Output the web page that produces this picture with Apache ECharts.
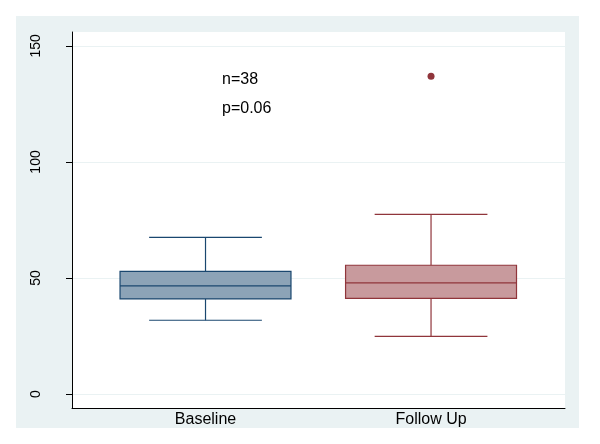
<!DOCTYPE html>
<html>
<head>
<meta charset="utf-8">
<script src="https://cdn.jsdelivr.net/npm/echarts@6/dist/echarts.min.js"></script>
<style>
  html, body { margin: 0; padding: 0; background: #ffffff; }
  #chart { position: absolute; left: 16px; top: 16px; width: 563px; height: 412px; }
</style>
</head>
<body>
<div id="chart"></div>
<script>
// box plot summary
const categories = ['Baseline', 'Follow Up']
const lowWhisker = [31.8, 24.9]
const q1 = [41.0, 41.2]
const median = [46.6, 47.9]
const q3 = [52.9, 55.5]
const highWhisker = [67.5, 77.4]
const outlierCategory = ['Follow Up']
const outlierValue = [136.9]
const yTicks = [0, 50, 100, 150]
const notes = ['n=38', 'p=0.06']

const fills = ['#8ca3b7', '#c89a9d']
const strokes = ['#1a476f', '#90353b']
const font = 'Liberation Sans, Arial, Helvetica, sans-serif'

const boxData = categories.map((c, i) => [i + 1, lowWhisker[i], q1[i], median[i], q3[i], highWhisker[i]])
const outlierData = outlierValue.map((v, i) => [categories.indexOf(outlierCategory[i]) + 1, v])

const chart = echarts.init(document.getElementById('chart'))

const renderBox = (params, api) => {
  const i = params.dataIndex
  const x = api.value(0)
  const band = api.size([1, 0])[0]
  const boxW = band * 0.758
  const capW = band * 0.5
  const lo = api.coord([x, api.value(1)])
  const b1 = api.coord([x, api.value(2)])
  const md = api.coord([x, api.value(3)])
  const b3 = api.coord([x, api.value(4)])
  const hi = api.coord([x, api.value(5)])
  const cx = lo[0]
  const line = { stroke: strokes[i], lineWidth: 1.2 }
  return {
    type: 'group',
    children: [
      { type: 'line', shape: { x1: cx, y1: lo[1], x2: cx, y2: b1[1] }, style: line },
      { type: 'line', shape: { x1: cx, y1: b3[1], x2: cx, y2: hi[1] }, style: line },
      { type: 'line', shape: { x1: cx - capW / 2, y1: lo[1], x2: cx + capW / 2, y2: lo[1] }, style: line },
      { type: 'line', shape: { x1: cx - capW / 2, y1: hi[1], x2: cx + capW / 2, y2: hi[1] }, style: line },
      {
        type: 'rect',
        shape: { x: cx - boxW / 2, y: b3[1], width: boxW, height: b1[1] - b3[1] },
        style: { fill: fills[i], stroke: strokes[i], lineWidth: 1.2 },
      },
      { type: 'line', shape: { x1: cx - boxW / 2, y1: md[1], x2: cx + boxW / 2, y2: md[1] }, style: line },
    ],
  }
}

const option = {
  backgroundColor: '#eaf2f3',
  animation: false,
  grid: {
    left: 56,
    top: 16,
    right: 14,
    bottom: 19,
    show: true,
    backgroundColor: '#ffffff',
    borderWidth: 0,
  },
  xAxis: {
    type: 'value',
    min: 0.408,
    max: 2.594,
    axisLine: { show: true, onZero: false, lineStyle: { color: '#000000', width: 1 } },
    axisTick: { show: false },
    splitLine: { show: false },
    axisLabel: {
      customValues: [1, 2],
      formatter: (v) => categories[Math.round(v) - 1] || '',
      color: '#000000',
      fontSize: 16,
      fontFamily: font,
      margin: 4,
    },
  },
  yAxis: {
    type: 'value',
    min: -6,
    max: 156,
    axisLine: { show: true, onZero: false, lineStyle: { color: '#000000', width: 1 } },
    axisTick: { show: true, customValues: yTicks, length: 6, lineStyle: { color: '#000000' } },
    splitLine: { show: true, lineStyle: { color: '#eaf2f3', width: 1 } },
    axisLabel: {
      customValues: yTicks,
      rotate: 90,
      color: '#000000',
      fontSize: 14,
      fontFamily: font,
      margin: 29,
    },
  },
  graphic: notes.map((t, i) => ({
    type: 'text',
    left: 206,
    top: 56 + i * 29,
    style: { text: t, fill: '#000000', font: '16px ' + font },
  })),
  series: [
    {
      type: 'custom',
      data: boxData,
      renderItem: renderBox,
      encode: { x: 0, y: [1, 2, 3, 4, 5] },
      silent: true,
    },
    {
      type: 'scatter',
      data: outlierData,
      symbolSize: 7,
      itemStyle: { color: '#90353b', opacity: 1 },
      silent: true,
    },
  ],
}

chart.setOption(option)
</script>
</body>
</html>
